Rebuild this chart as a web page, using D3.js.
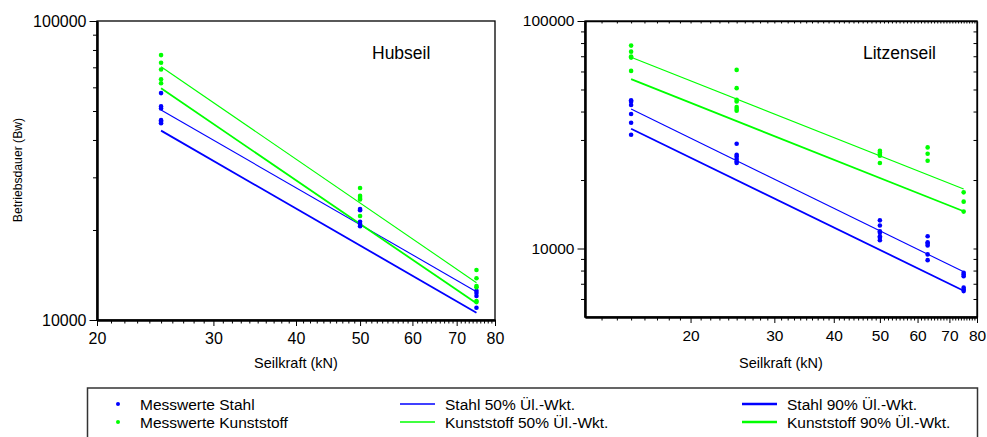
<!DOCTYPE html>
<html><head><meta charset="utf-8">
<script src="https://cdn.jsdelivr.net/npm/d3@7"></script>
<style>
html,body{margin:0;padding:0;background:#fff;}
svg{display:block;font-family:"Liberation Sans",Arial,Helvetica,sans-serif;}
</style></head>
<body>
<script>
// ---------- DATA ----------
// Hubseil (left panel)
const hubLoads = [25, 50, 75];
const hubStahl = [
  [57400, 51800, 51000, 46600, 46000, 45500],
  [23500, 23300, 21300, 20950, 20600],
  [12530, 12300, 12030, 10990]
];
const hubKunst = [
  [76900, 72500, 68800, 63800, 61900],
  [27640, 26000, 25600, 25300, 22280],
  [14700, 13790, 13000, 12860, 11580, 11480]
];
const hubFitX = [25, 75];
const hubStahl50 = [50390, 12440];
const hubStahl90 = [42980, 10580];
const hubKunst50 = [70300, 13330];
const hubKunst90 = [59550, 11370];

// Litzenseil (right panel)
const litzLoads = [15, 25, 50, 63, 75];
const litzStahl = [
  [44800, 44150, 42740, 38990, 35700, 31620],
  [28870, 25840, 25400, 24740, 24150, 23770],
  [13300, 12620, 11910, 11720, 11320, 11140, 10870],
  [11320, 10660, 10490, 10310, 9420, 8890],
  [7825, 7690, 7560, 6730, 6610, 6500]
];
const litzKunst = [
  [77950, 73340, 69730, 69030, 60360],
  [60970, 50680, 45040, 44260, 41830, 41000, 40300],
  [26900, 26450, 26030, 25580, 23760],
  [27820, 26110, 24320],
  [17650, 16070, 14530]
];
const litzFitX = [15, 75];
const litzStahl50 = [41000, 7900];
const litzStahl90 = [33600, 6525];
const litzKunst50 = [69300, 18270];
const litzKunst90 = [55500, 14580];

// Axis ticks
const xMajor = [20, 30, 40, 50, 60, 70, 80];
const yMajor = [10000, 100000];
const yMinorL = [20000, 30000, 40000, 50000, 60000, 70000, 80000, 90000];
const yMinorR = [6000, 7000, 8000, 9000, 20000, 30000, 40000, 50000, 60000, 70000, 80000, 90000];

// Texts
const xTitle = "Seilkraft (kN)";
const yTitle = "Betriebsdauer (Bw)";
const panelTitles = ["Hubseil", "Litzenseil"];
const legendLabels = ["Messwerte Stahl", "Messwerte Kunststoff",
  "Stahl 50% Ül.-Wkt.", "Kunststoff 50% Ül.-Wkt.",
  "Stahl 90% Ül.-Wkt.", "Kunststoff 90% Ül.-Wkt."];

// ---------- DRAW ----------
const BLUE = "#0000ff", GREEN = "#00ff00";
const svg = d3.select("body").append("svg").attr("width", 987).attr("height", 437);
svg.append("rect").attr("width", 987).attr("height", 437).attr("fill", "#fff");

function range(a, b) { const r = []; for (let i = a; i <= b; i++) r.push(i); return r; }

function panel(cfg) {
  const x = d3.scaleLog().domain(cfg.xDomain).range(cfg.xRange);
  const y = d3.scaleLog().domain(cfg.yDomain).range(cfg.yRange);
  const g = svg.append("g");
  const [x0, x1] = cfg.xRange, [yb, yt] = cfg.yRange;

  // frame
  g.append("rect").attr("x", x0).attr("y", yt).attr("width", x1 - x0).attr("height", yb - yt)
    .attr("fill", "none").attr("stroke", "#000").attr("stroke-width", 1.3);

  // x axis
  const xMinor = cfg.xMinor.filter(v => !xMajor.includes(v));
  const gx = g.append("g").attr("transform", `translate(0,${yb})`);
  gx.append("g").call(d3.axisBottom(x).tickValues(xMinor).tickSize(3.5).tickSizeOuter(0).tickFormat(""));
  gx.append("g").call(d3.axisBottom(x).tickValues(xMajor).tickSize(6).tickSizeOuter(0).tickFormat(d3.format("d")))
    .call(s => s.selectAll("text").attr("font-size", cfg.fs).attr("fill", "#000").attr("dy", "0.95em"));
  gx.selectAll(".domain").attr("stroke-width", 2);

  // y axis
  const gy = g.append("g").attr("transform", `translate(${x0},0)`);
  gy.append("g").call(d3.axisLeft(y).tickValues(cfg.yMinor).tickSize(4).tickSizeOuter(0).tickFormat(""));
  gy.append("g").call(d3.axisLeft(y).tickValues(yMajor).tickSize(7.5).tickSizeOuter(0).tickFormat(d3.format("d")))
    .call(s => s.selectAll("text").attr("font-size", cfg.fs).attr("fill", "#000").attr("x", -10.5));
  gy.selectAll(".domain").attr("stroke-width", 2);

  if (cfg.mirror) {
    const gt = g.append("g").attr("transform", `translate(0,${yt})`);
    gt.append("g").call(d3.axisBottom(x).tickValues(cfg.xMinor).tickSize(2.5).tickSizeOuter(0).tickFormat(""));
    const gr = g.append("g").attr("transform", `translate(${x1},0)`);
    gr.append("g").call(d3.axisLeft(y).tickValues(cfg.yMinor.concat(yMajor)).tickSize(3.5).tickSizeOuter(0).tickFormat(""));
    gt.selectAll(".domain").attr("stroke-width", 1.3);
    gr.selectAll(".domain").attr("stroke-width", 1.3);
  }
  g.selectAll(".tick line").attr("stroke", "#000").attr("stroke-width", 1);

  // fit lines
  const line = d3.line().x(d => x(d[0])).y(d => y(d[1]));
  const fits = [
    [cfg.stahl50, BLUE, 1.1], [cfg.kunst50, GREEN, 1.1],
    [cfg.stahl90, BLUE, 1.8], [cfg.kunst90, GREEN, 1.8]
  ];
  fits.forEach(([vals, col, w]) => {
    g.append("path").datum(cfg.fitX.map((xv, i) => [xv, vals[i]]))
      .attr("d", line).attr("fill", "none").attr("stroke", col).attr("stroke-width", w);
  });

  // points
  function pts(groups, col) {
    const data = [];
    groups.forEach((arr, i) => arr.forEach(v => data.push([cfg.loads[i], v])));
    g.append("g").selectAll("circle").data(data).join("circle")
      .attr("cx", d => x(d[0])).attr("cy", d => y(d[1])).attr("r", 2.3).attr("fill", col);
  }
  pts(cfg.stahl, BLUE);
  pts(cfg.kunst, GREEN);

  // titles
  g.append("text").attr("x", (x0 + x1) / 2).attr("y", 368).attr("text-anchor", "middle")
    .attr("font-size", 14.5).text(xTitle);
  g.append("text").attr("x", cfg.titleX).attr("y", 59).attr("font-size", 17.5).text(cfg.title);
}

panel({
  xDomain: [20, 80], xRange: [97, 495], yDomain: [10000, 100000], yRange: [320, 21],
  xMinor: range(21, 79), yMinor: yMinorL, fs: 16, mirror: false,
  loads: hubLoads, stahl: hubStahl, kunst: hubKunst, fitX: hubFitX,
  stahl50: hubStahl50, stahl90: hubStahl90, kunst50: hubKunst50, kunst90: hubKunst90,
  title: panelTitles[0], titleX: 372
});
panel({
  xDomain: [12, 80], xRange: [585, 977], yDomain: [5000, 100000], yRange: [317, 21],
  xMinor: range(13, 79), yMinor: yMinorR, fs: 15.5, mirror: true,
  loads: litzLoads, stahl: litzStahl, kunst: litzKunst, fitX: litzFitX,
  stahl50: litzStahl50, stahl90: litzStahl90, kunst50: litzKunst50, kunst90: litzKunst90,
  title: panelTitles[1], titleX: 863
});

// y axis title
svg.append("text").attr("transform", "translate(22,170) rotate(-90)").attr("text-anchor", "middle")
  .attr("font-size", 12.2).text(yTitle);

// ---------- LEGEND ----------
const lg = svg.append("g");
lg.append("rect").attr("x", 87.5).attr("y", 388).attr("width", 890).attr("height", 70)
  .attr("fill", "none").attr("stroke", "#333").attr("stroke-width", 1.5);
const rows = [404, 422];
const legendItems = [
  { type: "dot", col: BLUE, x: 118, row: 0, tx: 140, label: legendLabels[0] },
  { type: "dot", col: GREEN, x: 118, row: 1, tx: 140, label: legendLabels[1] },
  { type: "line", col: BLUE, x: 400, w: 1.3, row: 0, tx: 445, label: legendLabels[2] },
  { type: "line", col: GREEN, x: 400, w: 1.3, row: 1, tx: 445, label: legendLabels[3] },
  { type: "line", col: BLUE, x: 742, w: 2.6, row: 0, tx: 787, label: legendLabels[4] },
  { type: "line", col: GREEN, x: 742, w: 2.6, row: 1, tx: 787, label: legendLabels[5] }
];
legendItems.forEach(it => {
  const cy = rows[it.row];
  if (it.type === "dot") {
    lg.append("circle").attr("cx", it.x).attr("cy", cy).attr("r", 2).attr("fill", it.col);
  } else {
    lg.append("line").attr("x1", it.x).attr("x2", it.x + 35).attr("y1", cy).attr("y2", cy)
      .attr("stroke", it.col).attr("stroke-width", it.w);
  }
  lg.append("text").attr("x", it.tx).attr("y", cy + 5.5).attr("font-size", 15.5).text(it.label);
});
</script>
</body></html>
